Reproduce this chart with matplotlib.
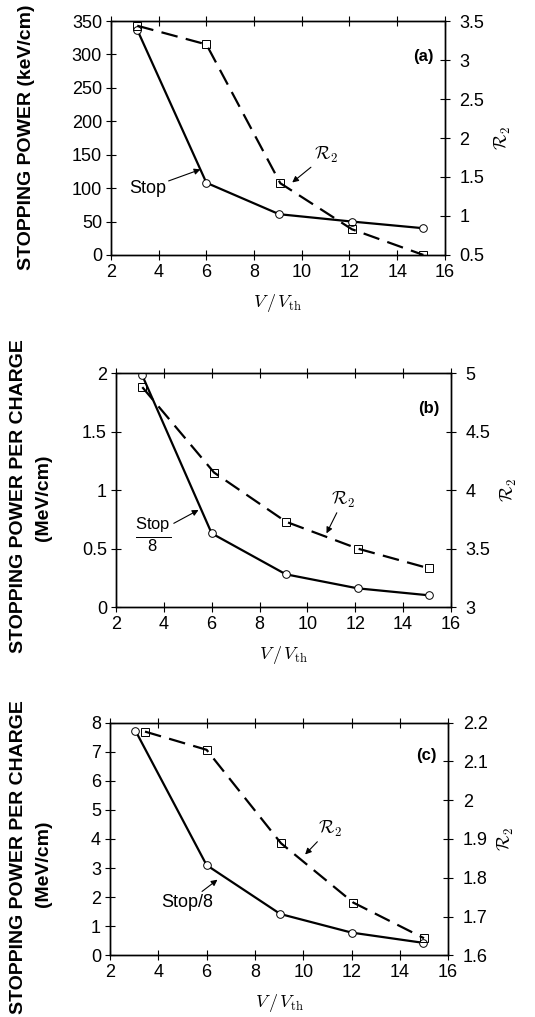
import numpy as np
import matplotlib
matplotlib.use("Agg")
import matplotlib.pyplot as plt
from matplotlib.ticker import FormatStrFormatter, MultipleLocator

plt.rcParams['font.family'] = ['Liberation Sans', 'DejaVu Sans']
plt.rcParams['mathtext.fontset'] = 'custom'
plt.rcParams['mathtext.rm'] = 'Liberation Sans'
plt.rcParams['mathtext.it'] = 'Liberation Sans:italic'
plt.rcParams['mathtext.bf'] = 'Liberation Sans:bold'

# panel (a)
xa_stop = [3.1, 6.0, 9.05, 12.1, 15.1]
ya_stop = [337, 108, 61, 50, 40]
xa_r2 = [3.1, 6.0, 9.1, 12.1, 15.1]
ya_r2 = [3.44, 3.20, 1.42, 0.83, 0.50]

# panel (b)
xb_stop = [3.1, 6.0, 9.1, 12.1, 15.1]
yb_stop = [1.98, 0.63, 0.28, 0.16, 0.10]
xb_r2 = [3.1, 6.1, 9.1, 12.1, 15.1]
yb_r2 = [4.88, 4.15, 3.73, 3.50, 3.33]

# panel (c)
xc_stop = [3.05, 6.0, 9.05, 12.0, 14.95]
yc_stop = [7.73, 3.10, 1.42, 0.78, 0.43]
xc_r2 = [3.45, 6.0, 9.08, 12.07, 15.0]
yc_r2 = [2.177, 2.130, 1.889, 1.736, 1.644]

fig = plt.figure(figsize=(5.35, 10.17), dpi=100)

def setup(ax, ax2, ylim, y2lim, ystep, y2step):
    ax.set_xlim(2, 16)
    ax.set_ylim(*ylim)
    ax2.set_ylim(*y2lim)
    ax.xaxis.set_major_locator(MultipleLocator(2))
    ax.yaxis.set_major_locator(MultipleLocator(ystep))
    ax2.yaxis.set_major_locator(MultipleLocator(y2step))
    ax.yaxis.set_major_formatter(FormatStrFormatter('%g'))
    ax2.yaxis.set_major_formatter(FormatStrFormatter('%g'))
    ax.tick_params(direction='inout', length=7, width=0.8, labelsize=13,
                   top=True, pad=3)
    ax2.tick_params(direction='inout', length=7, width=0.8, labelsize=13, pad=7)
    for a in (ax, ax2):
        for s in a.spines.values():
            s.set_linewidth(1.0)
    ax.set_xlabel(r'$V\,/\,V_{\rm th}$', fontsize=13, math_fontfamily='cm',
                  labelpad=8)
    ax2.set_ylabel(r'$\mathcal{R}_2$', fontsize=13, math_fontfamily='cm',
                   rotation=90, labelpad=6)

def draw(ax, ax2, xs, ys, xr, yr):
    ax.plot(xs, ys, '-', color='black', lw=1.6, marker='o', ms=5.5,
            mfc='white', mec='black', mew=0.7, zorder=3)
    ax2.plot(xr, yr, '--', color='black', lw=1.6, dashes=(7.5, 3.8),
             marker='s', ms=5.5, mfc='none', mec='black', mew=0.7, zorder=3)

arrow = dict(arrowstyle='-|>', color='black', lw=0.8, mutation_scale=9,
             shrinkA=0, shrinkB=0)

# (a)
ax = fig.add_axes([0.2075, 0.7493, 0.624, 0.230])
ax2 = ax.twinx()
setup(ax, ax2, (0, 350), (0.5, 3.5), 50, 0.5)
draw(ax, ax2, xa_stop, ya_stop, xa_r2, ya_r2)
ax.annotate('Stop', xy=(5.75, 128), xytext=(4.3, 112), fontsize=13,
            ha='right', va='top', arrowprops=arrow)
ax2.annotate(r'$\mathcal{R}_2$', xy=(9.6, 1.43), xytext=(10.5, 1.65),
             fontsize=13, math_fontfamily='cm', ha='left', va='bottom',
             arrowprops=arrow)
ax.text(0.965, 0.83, '(a)', transform=ax.transAxes, fontsize=12,
        fontweight='bold', ha='right')
fig.text(0.05, 0.865, 'STOPPING POWER (keV/cm)', rotation=90, fontsize=14,
         fontweight='bold', ha='center', va='center')

# (b)
ax = fig.add_axes([0.2168, 0.4031, 0.626, 0.230])
ax2 = ax.twinx()
setup(ax, ax2, (0, 2), (3, 5), 0.5, 0.5)
draw(ax, ax2, xb_stop, yb_stop, xb_r2, yb_r2)
ax.annotate(r'$\frac{\mathrm{Stop}}{\mathrm{8}}$', xy=(5.45, 0.83),
            xytext=(4.3, 0.62), fontsize=17, ha='right', va='center',
            arrowprops=arrow)
ax2.annotate(r'$\mathcal{R}_2$', xy=(10.8, 3.63), xytext=(11.0, 3.83),
             fontsize=13, math_fontfamily='cm', ha='left', va='bottom',
             arrowprops=arrow)
ax.text(0.965, 0.83, '(b)', transform=ax.transAxes, fontsize=12,
        fontweight='bold', ha='right')
fig.text(0.034, 0.512, 'STOPPING POWER PER CHARGE', rotation=90, fontsize=14,
         fontweight='bold', ha='center', va='center')
fig.text(0.081, 0.511, '(MeV/cm)', rotation=90, fontsize=14,
         fontweight='bold', ha='center', va='center')

# (c)
ax = fig.add_axes([0.2056, 0.0607, 0.632, 0.2287])
ax2 = ax.twinx()
setup(ax, ax2, (0, 8), (1.6, 2.2), 1, 0.1)
draw(ax, ax2, xc_stop, yc_stop, xc_r2, yc_r2)
ax.annotate('Stop/8', xy=(6.45, 2.6), xytext=(5.2, 2.1), fontsize=13,
            ha='center', va='top', arrowprops=arrow)
ax2.annotate(r'$\mathcal{R}_2$', xy=(10.08, 1.86), xytext=(10.6, 1.9),
             fontsize=13, math_fontfamily='cm', ha='left', va='bottom',
             arrowprops=arrow)
ax.text(0.965, 0.84, '(c)', transform=ax.transAxes, fontsize=12,
        fontweight='bold', ha='right')
fig.text(0.034, 0.157, 'STOPPING POWER PER CHARGE', rotation=90, fontsize=14,
         fontweight='bold', ha='center', va='center')
fig.text(0.081, 0.151, '(MeV/cm)', rotation=90, fontsize=14,
         fontweight='bold', ha='center', va='center')

fig.savefig('out.png', dpi=100)
